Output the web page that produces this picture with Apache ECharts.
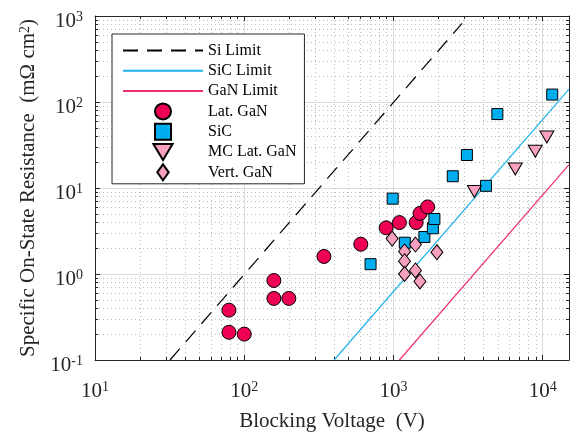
<!DOCTYPE html>
<html>
<head>
<meta charset="utf-8">
<script src="https://cdn.jsdelivr.net/npm/echarts@6/dist/echarts.min.js"></script>
<style>
    html, body {margin: 0; padding: 0; background: #fff;}
    #chart {width: 572px; height: 437px;}
</style>
</head>
<body>
<div id="chart"></div>
<script>
// limit lines, end points
const siLimitV = [31.8, 2880];
const siLimitR = [0.1, 820];
const sicLimitV = [400, 15000];
const sicLimitR = [0.1, 141];
const ganLimitV = [1096, 15000];
const ganLimitR = [0.1, 18.7];

// measured devices
const latGanV = [79, 79, 100, 158, 158, 199, 342, 604, 893, 1096, 1419, 1507, 1694];
const latGanR = [0.38, 0.21, 0.20, 0.84, 0.52, 0.52, 1.6, 2.22, 3.44, 3.96, 3.96, 5.07, 6.03];
const sicV = [702, 988, 1191, 1611, 1837, 1880, 2496, 3104, 4170, 4966, 11580];
const sicR = [1.30, 7.52, 2.31, 2.69, 3.40, 4.36, 13.7, 24.2, 10.6, 72.4, 122];
const mcGanV = [3483, 6546, 8912, 10660];
const mcGanR = [9.1, 16.6, 26.7, 39.1];
const vertGanV = [979, 1403, 1186, 1186, 1186, 1403, 1503, 1954];
const vertGanR = [2.58, 2.20, 1.83, 1.41, 1.00, 1.10, 0.82, 1.79];

const xTicks = [10, 100, 1000, 10000];
const yTicks = [0.1, 1, 10, 100, 1000];

!function () {
    const FONT = 'Liberation Serif';
    const INK = '#262626';
    const pair = (xs, ys) => xs.map((v, i) => [v, ys[i]]);
    const isTick = (list, v) => list.some(t => Math.abs(Math.log10(t) - Math.log10(v)) < 1e-6);
    const powLabel = list => v => isTick(list, v) ? '{b|10}{s|' + Math.round(Math.log10(v)) + '}' : '';
    const labelRich = {
        b: {fontFamily: FONT, fontSize: 21, lineHeight: 22, color: INK},
        s: {fontFamily: FONT, fontSize: 14, color: INK, verticalAlign: 'top'}
    };
    // 方形、菱形、倒三角用 path，图例里才能保持比例
    const SQUARE = 'path://M0,0L10,0L10,10L0,10Z';
    const DIAMOND = 'path://M5,0L10,7L5,14L0,7Z';
    const TRI_DOWN = 'path://M0,0L12,0L6,10Z';

    const axisBase = (show) => ({
        type: 'log', logBase: 10,
        axisLine: {show: true, onZero: false, lineStyle: {color: INK, width: 1}},
        axisTick: {show: true, inside: true, length: 5, lineStyle: {color: INK}},
        minorTick: {show: true, splitNumber: 9, length: 3, lineStyle: {color: INK}},
        splitLine: {show: show, lineStyle: {color: '#dcdcdc', width: 1}},
        minorSplitLine: {show: show, lineStyle: {color: '#bdbdbd', width: 1, type: [1, 3]}}
    });

    const line = (name, xs, ys, color, type) => ({
        name, type: 'line', data: pair(xs, ys), symbol: 'none',
        lineStyle: {color, width: 1.2, type}, itemStyle: {color}, z: 2
    });
    const dots = (name, xs, ys, symbol, size, color) => ({
        name, type: 'scatter', data: pair(xs, ys), symbol, symbolSize: size,
        itemStyle: {color, borderColor: '#000', borderWidth: 1, opacity: 1}, z: 3
    });
    const noDot = name => ({name, itemStyle: {opacity: 0}});

    const chart = echarts.init(document.getElementById('chart'));
    chart.setOption({
        animation: false,
        grid: {left: 95, right: 2, top: 16, bottom: 70},
        legend: {
            orient: 'vertical', left: 112, top: 34,
            padding: [7, 8, 2, 10],
            backgroundColor: '#fff', borderColor: INK, borderWidth: 1, borderRadius: 0,
            itemWidth: 80, itemHeight: 16, itemGap: 1.3,
            textStyle: {fontFamily: FONT, fontSize: 16, lineHeight: 19, height: 19, color: '#000'},
            data: [noDot('Si Limit'), noDot('SiC Limit'), noDot('GaN Limit'),
                'Lat. GaN', 'SiC', 'MC Lat. GaN', 'Vert. GaN']
        },
        xAxis: [
            Object.assign(axisBase(true), {
                min: 10, max: 15000, position: 'bottom',
                name: 'Blocking Voltage  (V)', nameLocation: 'middle', nameGap: 51,
                nameTextStyle: {fontFamily: FONT, fontSize: 21, color: INK},
                axisLabel: {margin: 20, formatter: powLabel(xTicks), rich: labelRich}
            }),
            Object.assign(axisBase(false), {
                min: 10, max: 15000, position: 'top', axisLabel: {show: false}
            })
        ],
        yAxis: [
            Object.assign(axisBase(true), {
                min: 0.1, max: 1000, position: 'left',
                name: '{t|Specific On-State Resistance  (m\u03a9 cm}{p|2}{t|)}',
                nameLocation: 'middle', nameGap: 52, nameRotate: 90,
                nameTextStyle: {
                    rich: {
                        t: {fontFamily: FONT, fontSize: 21, lineHeight: 22, color: INK},
                        p: {fontFamily: FONT, fontSize: 14, color: INK, verticalAlign: 'top'}
                    }
                },
                axisLabel: {margin: 12, padding: [10, 0, 0, 0], formatter: powLabel(yTicks), rich: labelRich}
            }),
            Object.assign(axisBase(false), {
                min: 0.1, max: 1000, position: 'right', axisLabel: {show: false}
            })
        ],
        series: [
            line('Si Limit', siLimitV, siLimitR, '#000', [15, 9]),
            line('SiC Limit', sicLimitV, sicLimitR, '#1fb3ea', 'solid'),
            line('GaN Limit', ganLimitV, ganLimitR, '#f0306e', 'solid'),
            dots('Lat. GaN', latGanV, latGanR, 'circle', 14, '#ee0055'),
            dots('SiC', sicV, sicR, SQUARE, 11, '#00aeef'),
            dots('MC Lat. GaN', mcGanV, mcGanR, TRI_DOWN, [14, 12], '#f7a0c0'),
            dots('Vert. GaN', vertGanV, vertGanR, DIAMOND, [12, 15], '#f7a0c0')
        ]
    });
}();
</script>
</body>
</html>
